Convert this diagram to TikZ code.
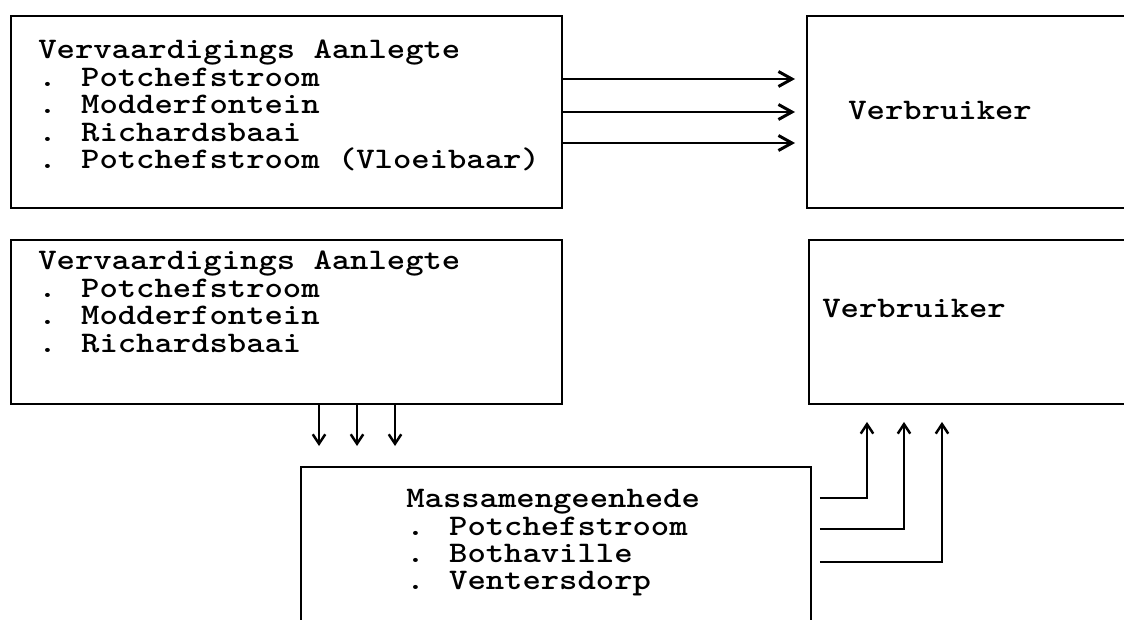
\documentclass[tikz,border=0pt]{standalone}
\usepackage{fontspec}
\newfontfamily\courfont{lmmonolt10-bold.otf}[FakeStretch=1.17]
\usetikzlibrary{arrows.meta,positioning,calc}

\begin{document}
\begin{tikzpicture}[x=0.02cm,y=-0.02cm,
  box/.style={draw,line width=1.1pt,inner sep=0pt,anchor=north west},
  txt/.style={align=left,inner sep=0pt,anchor=north west,
              font=\courfont\fontsize{17}{15.6}\selectfont},
  arr/.style={-{Straight Barb[length=2.7mm,width=3mm,line width=1.7pt]},
              line width=0.9pt},
  tip/.style={-{Straight Barb[length=1.9mm,width=2.5mm,line width=1.4pt]},
              line width=0.9pt}]
\useasboundingbox (0,0) rectangle (1124,619);
\clip (0,0) rectangle (1124,619);
% boxes
\node[box,minimum width=11.02cm,minimum height=3.84cm] (plants) at (10,15) {};
\node[box,minimum width=8cm,minimum height=3.84cm] (user) at (806,15) {};
\node[box,minimum width=11.02cm,minimum height=3.28cm] (plantsb) at (10,239) {};
\node[box,minimum width=8cm,minimum height=3.28cm] (userb) at (808,239) {};
\node[box,minimum width=10.2cm,minimum height=5cm] (mix) at (300,466) {};
% texts
\node[txt] (plantslist) at (38,40) {Vervaardigings Aanlegte\\
  . Potchefstroom\\ . Modderfontein\\ . Richardsbaai\\
  . Potchefstroom (Vloeibaar)};
\node[txt,anchor=west] (usertxt) at (848,110) {Verbruiker};
\node[txt] (plantsblist) at (38,251) {Vervaardigings Aanlegte\\
  . Potchefstroom\\ . Modderfontein\\ . Richardsbaai};
\node[txt,anchor=west] (userbtxt) at (822,308) {Verbruiker};
\node[txt] (mixlist) at (406,489) {Massamengeenhede\\
  . Potchefstroom\\ . Bothaville\\ . Ventersdorp};
% connectors
\foreach \y in {79,112,143}
  \draw[arr,shorten >=0.22cm] (plants.east |- 0,\y) -- (user.west |- 0,\y);
\foreach \x in {319,357,395}
  \draw[tip,shorten >=0.4cm] (plantsb.south -| \x,0) -- (mix.north -| \x,0);
\foreach \y/\x in {498/867,529/904,562/942}
  \draw[tip,shorten <=0.16cm,shorten >=0.34cm] (mix.east |- 0,\y) -| (userb.south -| \x,0);
\end{tikzpicture}
\end{document}
